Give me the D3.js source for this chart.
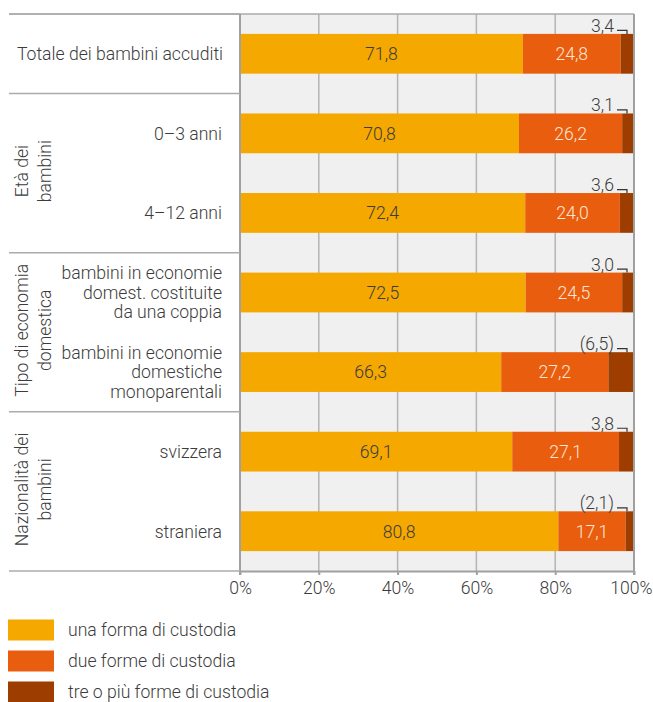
<!DOCTYPE html>
<html><head><meta charset="utf-8">
<script src="https://cdn.jsdelivr.net/npm/d3@7"></script>
<style>
body{margin:0;background:#fff;}
text{font-family:Roboto,"Noto Sans",sans-serif;font-weight:300;}
</style></head><body>
<svg id="c" width="653" height="702"></svg>
<script>
const categories = ["Totale dei bambini accuditi","0–3 anni","4–12 anni",
  "bambini in economie|domest. costituite|da una coppia",
  "bambini in economie|domestiche|monoparentali","svizzera","straniera"];
const una = [71.8,70.8,72.4,72.5,66.3,69.1,80.8];
const due = [24.8,26.2,24.0,24.5,27.2,27.1,17.1];
const tre = [3.4,3.1,3.6,3.0,6.5,3.8,2.1];
const treLabels = ["3,4","3,1","3,6","3,0","(6,5)","3,8","(2,1)"];
const groups = [
  {label:["Età dei","bambini"], from:1, to:2},
  {label:["Tipo di economia","domestica"], from:3, to:4},
  {label:["Nazionalità dei","bambini"], from:5, to:6}
];
const seriesNames = ["una forma di custodia","due forme di custodia","tre o più forme di custodia"];
const colors = ["#f5a800","#e95d0e","#9e3d00"];
const ticks = [0,20,40,60,80,100];

const FS = 17.6;
const svg = d3.select("#c");
const x = d3.scaleLinear().domain([0,100]).range([240,634]);
const y = d3.scaleBand().domain(d3.range(categories.length)).range([14,571]).padding(0.5).paddingOuter(0.25);
const fmt = v => v.toFixed(1).replace(".", ",");

svg.append("rect").attr("x",240).attr("y",14).attr("width",394).attr("height",557).attr("fill","#f0f0f0");
svg.selectAll(".g").data(ticks.slice(1)).join("line")
  .attr("x1",d=>x(d)).attr("x2",d=>x(d)).attr("y1",14).attr("y2",571)
  .attr("stroke","#b4b4b4").attr("stroke-width",1.5);
svg.append("line").attr("x1",9).attr("x2",634).attr("y1",14).attr("y2",14).attr("stroke","#ababab").attr("stroke-width",1.5);

const stackData = categories.map((c,i)=>({i, una:una[i], due:due[i], tre:tre[i]}));
const stack = d3.stack().keys(["una","due","tre"])(stackData);
svg.selectAll(".s").data(stack).join("g").attr("fill",(d,k)=>colors[k])
  .selectAll("rect").data(d=>d).join("rect")
  .attr("x",d=>x(d[0])).attr("width",d=>x(d[1])-x(d[0]))
  .attr("y",d=>y(d.data.i)).attr("height",y.bandwidth());

stack.slice(0,2).forEach((s,k)=>{
  svg.selectAll(".v"+k).data(s).join("text")
    .attr("x",d=>(x(d[0])+x(d[1]))/2).attr("y",d=>y(d.data.i)+y.bandwidth()/2)
    .attr("dy","0.36em").attr("text-anchor","middle").attr("font-size",FS)
    .attr("fill",k===0?"#3c3c3c":"#fde6d6").text(d=>fmt(d.data[k===0?"una":"due"]));
});

stack[2].forEach((d,i)=>{
  const top = y(i), bx = x(100)-7, hy = top-3.5;
  svg.append("path").attr("d",`M${bx-10},${hy}H${bx}V${top}`).attr("fill","none")
    .attr("stroke","#333").attr("stroke-width",1.2);
  svg.append("text").attr("x",bx-13).attr("y",hy+1.5).attr("text-anchor","end")
    .attr("font-size",FS).attr("fill","#3c3c3c").text(treLabels[i]);
});

const ax = svg.append("g").attr("transform","translate(0,571)")
  .call(d3.axisBottom(x).tickValues(ticks).tickFormat(d=>d+"%").tickSize(4).tickSizeOuter(0));
ax.select(".domain").attr("stroke","#a0a0a0").attr("stroke-width",2);
ax.selectAll(".tick line").attr("stroke","#a0a0a0").attr("stroke-width",2);
ax.selectAll(".tick text").attr("font-size",FS).attr("fill","#3c3c3c").attr("dy","0.9em")
  .style("font-family","Roboto").style("font-weight",300);
ax.selectAll(".tick").filter(d=>d===100).select("text").attr("text-anchor","end").attr("x",18);
svg.append("line").attr("x1",240).attr("x2",240).attr("y1",14).attr("y2",575).attr("stroke","#a0a0a0").attr("stroke-width",2);
svg.append("line").attr("x1",634).attr("x2",634).attr("y1",14).attr("y2",575).attr("stroke","#a0a0a0").attr("stroke-width",2);

const sepY = [14].concat([1,3,5].map(s=>(y(s-1)+y.bandwidth()+y(s))/2)).concat([571]);
svg.selectAll(".hl").data(sepY).join("line")
  .attr("x1",9).attr("x2",240).attr("y1",d=>d).attr("y2",d=>d)
  .attr("stroke","#ababab").attr("stroke-width",1.5);

categories.forEach((c,i)=>{
  const lines = c.split("|");
  const cy = y(i)+y.bandwidth()/2;
  const lh = 19.5;
  const t = svg.append("text").attr("text-anchor","end").attr("font-size",FS).attr("fill","#3c3c3c");
  lines.forEach((l,j)=>{
    t.append("tspan").attr("x",i===0?223:222).attr("y",cy+(j-(lines.length-1)/2)*lh).attr("dy","0.36em").text(l);
  });
});

groups.forEach(g=>{
  const cy = (y(g.from)+y(g.to)+y.bandwidth())/2;
  const t = svg.append("text").attr("text-anchor","middle").attr("font-size",FS).attr("fill","#3c3c3c")
    .attr("transform",`translate(22,${cy-2}) rotate(-90)`);
  g.label.forEach((l,j)=>{
    t.append("tspan").attr("x",0).attr("y",j*23).attr("dy","0.36em").text(l);
  });
});

const lg = svg.append("g");
seriesNames.forEach((n,k)=>{
  const ly = 630 + k*31;
  lg.append("rect").attr("x",8).attr("y",ly-10.5).attr("width",46).attr("height",21).attr("fill",colors[k]);
  lg.append("text").attr("x",68).attr("y",ly).attr("dy","0.36em").attr("font-size",FS).attr("fill","#3c3c3c").text(n);
});
</script></body></html>
